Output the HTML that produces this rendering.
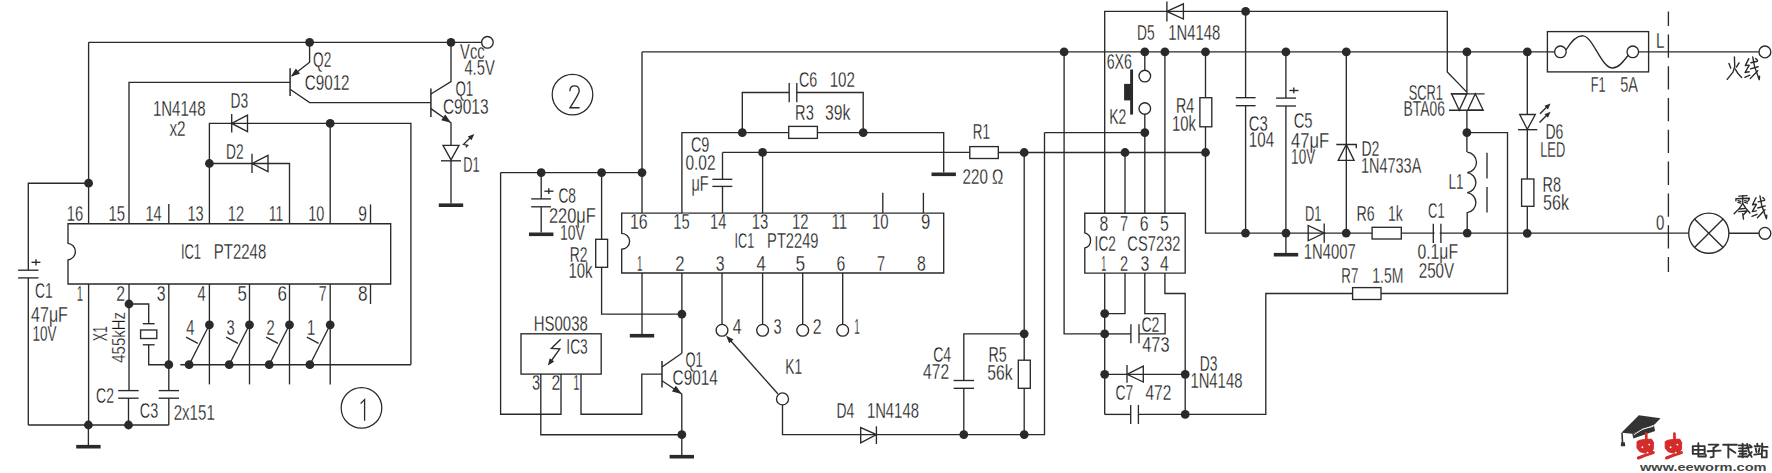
<!DOCTYPE html>
<html><head><meta charset="utf-8"><style>
html,body{margin:0;padding:0;background:#fff;}
body{width:1772px;height:473px;overflow:hidden;}
svg{display:block;}
svg line, svg polyline, svg polygon, svg rect, svg circle, svg path{fill:none;stroke:#2a2a2a;stroke-width:1.35;}
svg .d{fill:#2a2a2a;stroke:none;}
svg .w{fill:#fff;}
svg .wn{fill:#fff;stroke:none;}
svg text{font-family:"Liberation Sans",sans-serif;fill:#151515;stroke:#fff;stroke-width:0.3px;}
</style></head><body>
<svg width="1772" height="473" viewBox="0 0 1772 473">
<line x1="88.6" y1="42.3" x2="481.8" y2="42.3"/>
<circle class="d" cx="309.6" cy="42.3" r="4.4"/>
<circle class="d" cx="451" cy="42.3" r="4.4"/>
<circle cx="487.4" cy="42.3" r="5.8"/>
<line x1="88.6" y1="42.3" x2="88.6" y2="223.7"/>
<circle class="d" cx="88.6" cy="183.2" r="4.4"/>
<polyline points="88.6,183.2 28.3,183.2 28.3,270.2"/>
<line x1="18.1" y1="270.2" x2="38.5" y2="270.2"/>
<line x1="18.1" y1="277.9" x2="38.5" y2="277.9"/>
<line x1="28.3" y1="277.9" x2="28.3" y2="425"/>
<line x1="31.5" y1="262.3" x2="40.4" y2="262.3"/>
<line x1="36" y1="259.2" x2="36" y2="265.4"/>
<polyline points="129,223.7 129,82.4 290.1,82.4"/>
<line x1="290.1" y1="68.2" x2="290.1" y2="96.1" style="stroke-width:1.5"/>
<polyline points="309.6,42.3 309.6,62.2 292,76"/>
<polygon class="d" points="290.8,76.6 295.88,68.43 300.01,73.83"/>
<polyline points="290.1,89.2 309.6,102.6 430.9,102.6"/>
<line x1="430.9" y1="88.5" x2="430.9" y2="117" style="stroke-width:1.5"/>
<polyline points="430.9,94 451,81.5 451,42.3"/>
<polyline points="430.9,108.6 451,122.8 451,145.3"/>
<polygon class="d" points="451,122.8 441.22,120.18 445.26,114.46"/>
<polygon points="443,145.3 459,145.3 451,159.8"/>
<line x1="441" y1="160.8" x2="461" y2="160.8"/>
<line x1="451" y1="160.8" x2="451" y2="203.5"/>
<rect class="d" x="438.8" y="203.4" width="24.4" height="3.6"/>
<polyline points="465.8,147.3 467.7,145.4 463.6,144.3 471,137"/>
<polygon class="d" points="474.3,133.9 471.52,140.37 467.76,136.49"/>
<polyline points="209.4,223.7 209.4,123.4 410.9,123.4 410.9,364.7"/>
<line x1="231.7" y1="114" x2="231.7" y2="132.6"/>
<polygon points="231.7,123.4 247.5,115.2 247.5,131.6"/>
<circle class="d" cx="330.2" cy="123.4" r="4.4"/>
<line x1="330.2" y1="123.4" x2="330.2" y2="223.7"/>
<circle class="d" cx="209.4" cy="163.5" r="4.4"/>
<polyline points="209.4,163.5 289.5,163.5 289.5,223.7"/>
<line x1="252" y1="153.8" x2="252" y2="173.1"/>
<polygon points="252,163.5 268,155.3 268,171.7"/>
<path d="M68,243.3 A8.3,8.3 0 0 1 68,259.8 L68,284 L390.7,284 L390.7,223.7 L68,223.7 Z"/>
<line x1="168.8" y1="204" x2="168.8" y2="223.7"/>
<line x1="370.5" y1="204.4" x2="370.5" y2="223.7"/>
<line x1="88.6" y1="284" x2="88.6" y2="425"/>
<line x1="129" y1="284" x2="129" y2="390.6"/>
<line x1="168.8" y1="284" x2="168.8" y2="390.6"/>
<line x1="209.4" y1="284" x2="209.4" y2="384.4"/>
<line x1="249.5" y1="284" x2="249.5" y2="384.4"/>
<line x1="289.5" y1="284" x2="289.5" y2="384.4"/>
<line x1="330.2" y1="284" x2="330.2" y2="384.4"/>
<line x1="370.5" y1="284" x2="370.5" y2="304"/>
<circle class="d" cx="129" cy="304" r="4.4"/>
<polyline points="129,304 148.7,304 148.7,323.7"/>
<line x1="142.8" y1="323.7" x2="154.6" y2="323.7"/>
<rect x="140.6" y="330" width="16.2" height="8.5"/>
<line x1="142.8" y1="344.8" x2="154.6" y2="344.8"/>
<polyline points="148.7,344.8 148.7,364.7 168.8,364.7"/>
<circle class="d" cx="168.8" cy="364.7" r="4.4"/>
<line x1="180.3" y1="364.7" x2="410.9" y2="364.7"/>
<circle class="d" cx="209.4" cy="324.8" r="4.4"/>
<circle class="d" cx="189.1" cy="364.7" r="4.4"/>
<line x1="189.1" y1="364.7" x2="209.4" y2="324.8"/>
<line x1="186.1" y1="337.2" x2="197.8" y2="343.3"/>
<circle class="d" cx="249.5" cy="324.8" r="4.4"/>
<circle class="d" cx="229.2" cy="364.7" r="4.4"/>
<line x1="229.2" y1="364.7" x2="249.5" y2="324.8"/>
<line x1="226.2" y1="337.2" x2="237.9" y2="343.3"/>
<circle class="d" cx="289.5" cy="324.8" r="4.4"/>
<circle class="d" cx="269.2" cy="364.7" r="4.4"/>
<line x1="269.2" y1="364.7" x2="289.5" y2="324.8"/>
<line x1="266.2" y1="337.2" x2="277.9" y2="343.3"/>
<circle class="d" cx="330.2" cy="324.8" r="4.4"/>
<circle class="d" cx="309.9" cy="364.7" r="4.4"/>
<line x1="309.9" y1="364.7" x2="330.2" y2="324.8"/>
<line x1="306.9" y1="337.2" x2="318.6" y2="343.3"/>
<line x1="118.2" y1="390.6" x2="138.6" y2="390.6"/>
<line x1="118.2" y1="398.2" x2="138.6" y2="398.2"/>
<line x1="158.7" y1="390.6" x2="179" y2="390.6"/>
<line x1="158.7" y1="398.2" x2="179" y2="398.2"/>
<line x1="128.5" y1="398.2" x2="128.5" y2="425"/>
<line x1="168.8" y1="398.2" x2="168.8" y2="425"/>
<line x1="28.3" y1="425" x2="168.8" y2="425"/>
<circle class="d" cx="88.4" cy="425" r="4.4"/>
<circle class="d" cx="128.5" cy="425" r="4.4"/>
<line x1="88.4" y1="425" x2="88.4" y2="445"/>
<rect class="d" x="76.2" y="444.9" width="24.4" height="3.6"/>
<circle cx="361.5" cy="407.9" r="20.3" style="stroke-width:1.25"/>
<circle cx="572.5" cy="94.6" r="20.3" style="stroke-width:1.25"/>
<text x="313.1" y="67" textLength="18.2" lengthAdjust="spacingAndGlyphs" font-size="21.4">Q2</text>
<text x="304.7" y="89.8" textLength="44.9" lengthAdjust="spacingAndGlyphs" font-size="21.4">C9012</text>
<text x="460.1" y="59.2" textLength="24.5" lengthAdjust="spacingAndGlyphs" font-size="21.4">Vcc</text>
<text x="464.4" y="75.3" textLength="30.4" lengthAdjust="spacingAndGlyphs" font-size="21.4">4.5V</text>
<text x="455.4" y="96.1" textLength="17.8" lengthAdjust="spacingAndGlyphs" font-size="21.4">Q1</text>
<text x="442.9" y="114.4" textLength="45.6" lengthAdjust="spacingAndGlyphs" font-size="21.4">C9013</text>
<text x="463.2" y="172.2" textLength="16.4" lengthAdjust="spacingAndGlyphs" font-size="21.4">D1</text>
<text x="152.9" y="115.7" textLength="52.7" lengthAdjust="spacingAndGlyphs" font-size="21.4">1N4148</text>
<text x="169.4" y="136" textLength="16.2" lengthAdjust="spacingAndGlyphs" font-size="21.4">x2</text>
<text x="230.4" y="107.6" textLength="17.7" lengthAdjust="spacingAndGlyphs" font-size="21.4">D3</text>
<text x="226" y="158.9" textLength="17.6" lengthAdjust="spacingAndGlyphs" font-size="21.4">D2</text>
<text x="66.7" y="220.6" textLength="16.4" lengthAdjust="spacingAndGlyphs" font-size="21.4">16</text>
<text x="108.4" y="220.6" textLength="16.6" lengthAdjust="spacingAndGlyphs" font-size="21.4">15</text>
<text x="145.4" y="220.6" textLength="16.2" lengthAdjust="spacingAndGlyphs" font-size="21.4">14</text>
<text x="187.4" y="220.6" textLength="16.2" lengthAdjust="spacingAndGlyphs" font-size="21.4">13</text>
<text x="227.8" y="220.6" textLength="16.3" lengthAdjust="spacingAndGlyphs" font-size="21.4">12</text>
<text x="268.7" y="220.6" textLength="14.5" lengthAdjust="spacingAndGlyphs" font-size="21.4">11</text>
<text x="308.2" y="220.6" textLength="16.1" lengthAdjust="spacingAndGlyphs" font-size="21.4">10</text>
<text x="358.2" y="220.6" textLength="8.7" lengthAdjust="spacingAndGlyphs" font-size="21.4">9</text>
<text x="76.8" y="300.6" textLength="6.3" lengthAdjust="spacingAndGlyphs" font-size="21.4">1</text>
<text x="116.2" y="300.6" textLength="8.8" lengthAdjust="spacingAndGlyphs" font-size="21.4">2</text>
<text x="156.8" y="300.6" textLength="8.8" lengthAdjust="spacingAndGlyphs" font-size="21.4">3</text>
<text x="197.4" y="300.6" textLength="8.2" lengthAdjust="spacingAndGlyphs" font-size="21.4">4</text>
<text x="237.4" y="300.6" textLength="9.4" lengthAdjust="spacingAndGlyphs" font-size="21.4">5</text>
<text x="277.4" y="300.6" textLength="9.5" lengthAdjust="spacingAndGlyphs" font-size="21.4">6</text>
<text x="318.7" y="300.6" textLength="7.9" lengthAdjust="spacingAndGlyphs" font-size="21.4">7</text>
<text x="358" y="300.6" textLength="9.6" lengthAdjust="spacingAndGlyphs" font-size="21.4">8</text>
<text x="180.9" y="258.5" textLength="20.2" lengthAdjust="spacingAndGlyphs" font-size="21.4">IC1</text>
<text x="213.8" y="258.5" textLength="52.4" lengthAdjust="spacingAndGlyphs" font-size="21.4">PT2248</text>
<text x="34.9" y="297.7" textLength="17.7" lengthAdjust="spacingAndGlyphs" font-size="21.4">C1</text>
<text x="31.1" y="321.6" textLength="36.8" lengthAdjust="spacingAndGlyphs" font-size="21.4">47μF</text>
<text x="32.4" y="340.6" textLength="24" lengthAdjust="spacingAndGlyphs" font-size="21.4">10V</text>
<text transform="translate(107.2,340.7) rotate(-90)" x="-0.6" y="0" textLength="15.3" lengthAdjust="spacingAndGlyphs" font-size="19.8">X1</text>
<text transform="translate(125.2,362.1) rotate(-90)" x="-0.6" y="0" textLength="50.7" lengthAdjust="spacingAndGlyphs" font-size="17.8">455kHz</text>
<text x="186.3" y="334.6" textLength="8.2" lengthAdjust="spacingAndGlyphs" font-size="21.4">4</text>
<text x="226.4" y="334.6" textLength="8.2" lengthAdjust="spacingAndGlyphs" font-size="21.4">3</text>
<text x="266.4" y="334.6" textLength="8.2" lengthAdjust="spacingAndGlyphs" font-size="21.4">2</text>
<text x="307.1" y="334.6" textLength="8.2" lengthAdjust="spacingAndGlyphs" font-size="21.4">1</text>
<text x="96.1" y="402.5" textLength="17.9" lengthAdjust="spacingAndGlyphs" font-size="21.4">C2</text>
<text x="139.8" y="417.8" textLength="18.4" lengthAdjust="spacingAndGlyphs" font-size="21.4">C3</text>
<text x="173.7" y="419.6" textLength="41.1" lengthAdjust="spacingAndGlyphs" font-size="21.4">2x151</text>
<polyline points="360.6,403.6 364.6,399.6 364.6,420.8" style="stroke-width:1.3"/>
<path d="M569.9,91.2 C569.9,87.9 571.9,85.9 574.5,85.9 C577.3,85.9 579.2,88 579.2,91 C579.2,93.6 577.4,95.8 570.1,107.7 L579.6,107.7" style="stroke-width:1.35"/>
<line x1="642" y1="51.9" x2="1554.6" y2="51.9"/>
<line x1="642" y1="51.9" x2="642" y2="213.1"/>
<line x1="500.6" y1="172.6" x2="642" y2="172.6"/>
<circle class="d" cx="541.2" cy="172.6" r="4.4"/>
<circle class="d" cx="601.6" cy="172.6" r="4.4"/>
<circle class="d" cx="642" cy="172.6" r="4.4"/>
<line x1="541.2" y1="172.6" x2="541.2" y2="198.8"/>
<line x1="531.2" y1="198.9" x2="551" y2="198.9"/>
<line x1="531.2" y1="206.8" x2="551" y2="206.8"/>
<line x1="541.2" y1="206.8" x2="541.2" y2="232.6"/>
<rect class="d" x="529" y="232.5" width="24.4" height="3.6"/>
<line x1="544.4" y1="191.2" x2="553.5" y2="191.2"/>
<line x1="548.8" y1="188.3" x2="548.8" y2="193.9"/>
<polyline points="500.6,172.6 500.6,414.2 561,414.2 561,374.1"/>
<line x1="601.6" y1="172.6" x2="601.6" y2="239.3"/>
<rect x="595.7" y="239.3" width="11.9" height="28"/>
<polyline points="601.6,267.3 601.6,314.1 681.9,314.1"/>
<circle class="d" cx="681.9" cy="314.1" r="4.4"/>
<path d="M621.7,233.4 A7.9,7.9 0 0 1 621.7,249.2 L621.7,273 L943.7,273 L943.7,213.1 L621.7,213.1 Z"/>
<polyline points="681.9,213.1 681.9,132.6 788.7,132.6"/>
<rect x="788.7" y="126.4" width="28.7" height="12"/>
<polyline points="817.4,132.6 943.7,132.6 943.7,172.6"/>
<rect class="d" x="931.5" y="172.5" width="24.4" height="3.6"/>
<circle class="d" cx="742.3" cy="132.6" r="4.4"/>
<circle class="d" cx="863.2" cy="132.6" r="4.4"/>
<polyline points="742.3,132.6 742.3,92.5 789.2,92.5"/>
<line x1="789.2" y1="83.1" x2="789.2" y2="102.2"/>
<line x1="796.8" y1="83.1" x2="796.8" y2="102.2"/>
<polyline points="796.8,92.5 863.2,92.5 863.2,132.6"/>
<line x1="722.5" y1="152.4" x2="722.5" y2="179.3"/>
<line x1="712.4" y1="179.3" x2="732.3" y2="179.3"/>
<line x1="712.4" y1="186.4" x2="732.3" y2="186.4"/>
<line x1="722.5" y1="186.4" x2="722.5" y2="213.1"/>
<line x1="722.5" y1="152.4" x2="969.8" y2="152.4"/>
<rect x="969.8" y="146.6" width="28.5" height="11.9"/>
<line x1="998.3" y1="152.5" x2="1205.5" y2="152.5"/>
<circle class="d" cx="762.6" cy="152.4" r="4.4"/>
<line x1="762.6" y1="152.4" x2="762.6" y2="213.1"/>
<circle class="d" cx="1024.2" cy="152.5" r="4.4"/>
<line x1="882.8" y1="192.8" x2="882.8" y2="213.1"/>
<line x1="923.4" y1="192.8" x2="923.4" y2="213.1"/>
<line x1="642" y1="273" x2="642" y2="334"/>
<rect class="d" x="629.8" y="333.9" width="24.4" height="3.6"/>
<line x1="681.9" y1="273" x2="681.9" y2="353.3"/>
<line x1="722" y1="273" x2="722" y2="324.4"/>
<circle cx="722" cy="330.3" r="5.9"/>
<line x1="762.6" y1="273" x2="762.6" y2="324.4"/>
<circle cx="762.6" cy="330.3" r="5.9"/>
<line x1="802.7" y1="273" x2="802.7" y2="324.4"/>
<circle cx="802.7" cy="330.3" r="5.9"/>
<line x1="842.7" y1="273" x2="842.7" y2="324.4"/>
<circle cx="842.7" cy="330.3" r="5.9"/>
<line x1="777.8" y1="393.8" x2="728.5" y2="338.3"/>
<polygon class="d" points="726,335.5 733.41,339.61 729.23,343.33"/>
<circle cx="782.5" cy="398.9" r="6"/>
<polyline points="782.5,404.9 782.5,434.6 1044.5,434.6 1044.5,132.5"/>
<polygon points="860.7,427.6 860.7,442.8 876.4,434.6"/>
<line x1="876.4" y1="426.3" x2="876.4" y2="444"/>
<circle class="d" cx="963.8" cy="434.6" r="4.4"/>
<circle class="d" cx="1024.2" cy="434.6" r="4.4"/>
<line x1="1024.2" y1="152.5" x2="1024.2" y2="360.2"/>
<rect x="1018.3" y="360.2" width="12" height="28.1"/>
<line x1="1024.2" y1="388.3" x2="1024.2" y2="434.6"/>
<polyline points="1024.2,333.8 963.8,333.8 963.8,380.5"/>
<circle class="d" cx="1024.2" cy="333.8" r="4.4"/>
<line x1="953.6" y1="380.5" x2="974" y2="380.5"/>
<line x1="953.6" y1="388.3" x2="974" y2="388.3"/>
<line x1="963.8" y1="388.3" x2="963.8" y2="434.6"/>
<rect x="521" y="333.8" width="80.2" height="40.3"/>
<polyline points="540.8,374.1 540.8,434.7 681.8,434.7"/>
<polyline points="581,374.1 581,414.2 641.8,414.2 641.8,374.1 662,374.1"/>
<polyline points="560.7,339.2 551.4,348.4 559.8,348.8 551.5,360.5"/>
<polygon class="d" points="547.9,365.5 549.68,358.17 554.24,361.42"/>
<line x1="662" y1="361" x2="662" y2="387.6" style="stroke-width:1.5"/>
<polyline points="662,367 681.8,353.3"/>
<polyline points="662,380.7 681.8,394 681.8,455"/>
<polygon class="d" points="681.8,394 671.96,391.61 675.87,385.8"/>
<circle class="d" cx="681.8" cy="434.7" r="4.4"/>
<rect class="d" x="669.6" y="454.9" width="24.4" height="3.6"/>
<text x="558.4" y="203.4" textLength="17.6" lengthAdjust="spacingAndGlyphs" font-size="21.4">C8</text>
<text x="548.9" y="223" textLength="46.9" lengthAdjust="spacingAndGlyphs" font-size="21.4">220μF</text>
<text x="560.1" y="240.1" textLength="24.8" lengthAdjust="spacingAndGlyphs" font-size="21.4">10V</text>
<text x="569.8" y="262.2" textLength="17.7" lengthAdjust="spacingAndGlyphs" font-size="21.4">R2</text>
<text x="568.4" y="278.2" textLength="24.2" lengthAdjust="spacingAndGlyphs" font-size="21.4">10k</text>
<text x="533.8" y="331" textLength="54" lengthAdjust="spacingAndGlyphs" font-size="21.4">HS0038</text>
<text x="566.3" y="353.8" textLength="21.5" lengthAdjust="spacingAndGlyphs" font-size="21.4">IC3</text>
<text x="532" y="390" textLength="8.1" lengthAdjust="spacingAndGlyphs" font-size="21.4">3</text>
<text x="551.6" y="390" textLength="8.8" lengthAdjust="spacingAndGlyphs" font-size="21.4">2</text>
<text x="573.2" y="390" textLength="6.2" lengthAdjust="spacingAndGlyphs" font-size="21.4">1</text>
<text x="685.4" y="366.5" textLength="17.2" lengthAdjust="spacingAndGlyphs" font-size="21.4">Q1</text>
<text x="672.6" y="384.5" textLength="45.2" lengthAdjust="spacingAndGlyphs" font-size="21.4">C9014</text>
<text x="799" y="87" textLength="18.3" lengthAdjust="spacingAndGlyphs" font-size="21.4">C6</text>
<text x="829.7" y="87" textLength="25.3" lengthAdjust="spacingAndGlyphs" font-size="21.4">102</text>
<text x="795.1" y="120" textLength="18.7" lengthAdjust="spacingAndGlyphs" font-size="21.4">R3</text>
<text x="825.1" y="120" textLength="25.3" lengthAdjust="spacingAndGlyphs" font-size="21.4">39k</text>
<text x="690.9" y="151.6" textLength="18.5" lengthAdjust="spacingAndGlyphs" font-size="21.4">C9</text>
<text x="685.4" y="170" textLength="30.1" lengthAdjust="spacingAndGlyphs" font-size="21.4">0.02</text>
<text x="691.4" y="190.8" textLength="17.2" lengthAdjust="spacingAndGlyphs" font-size="21.4">μF</text>
<text x="972.8" y="138.5" textLength="17.2" lengthAdjust="spacingAndGlyphs" font-size="21.4">R1</text>
<text x="962.6" y="184.4" textLength="40.8" lengthAdjust="spacingAndGlyphs" font-size="21.4">220 Ω</text>
<text x="630" y="229.3" textLength="17.7" lengthAdjust="spacingAndGlyphs" font-size="21.4">16</text>
<text x="673.2" y="229.3" textLength="16.4" lengthAdjust="spacingAndGlyphs" font-size="21.4">15</text>
<text x="710" y="229.3" textLength="16.4" lengthAdjust="spacingAndGlyphs" font-size="21.4">14</text>
<text x="751.8" y="229.3" textLength="16.5" lengthAdjust="spacingAndGlyphs" font-size="21.4">13</text>
<text x="791.9" y="229.3" textLength="16.5" lengthAdjust="spacingAndGlyphs" font-size="21.4">12</text>
<text x="831.4" y="229.3" textLength="15.7" lengthAdjust="spacingAndGlyphs" font-size="21.4">11</text>
<text x="872" y="229.3" textLength="16.5" lengthAdjust="spacingAndGlyphs" font-size="21.4">10</text>
<text x="921" y="229.3" textLength="9.3" lengthAdjust="spacingAndGlyphs" font-size="21.4">9</text>
<text x="734.6" y="247.9" textLength="19.7" lengthAdjust="spacingAndGlyphs" font-size="21.4">IC1</text>
<text x="767.1" y="247.9" textLength="51.4" lengthAdjust="spacingAndGlyphs" font-size="21.4">PT2249</text>
<text x="637.1" y="271" textLength="5.5" lengthAdjust="spacingAndGlyphs" font-size="21.4">1</text>
<text x="675.2" y="271" textLength="9.3" lengthAdjust="spacingAndGlyphs" font-size="21.4">2</text>
<text x="715.8" y="271" textLength="8.8" lengthAdjust="spacingAndGlyphs" font-size="21.4">3</text>
<text x="756.4" y="271" textLength="9.3" lengthAdjust="spacingAndGlyphs" font-size="21.4">4</text>
<text x="795.4" y="271" textLength="9.7" lengthAdjust="spacingAndGlyphs" font-size="21.4">5</text>
<text x="836.5" y="271" textLength="8.8" lengthAdjust="spacingAndGlyphs" font-size="21.4">6</text>
<text x="877.1" y="271" textLength="8.1" lengthAdjust="spacingAndGlyphs" font-size="21.4">7</text>
<text x="917" y="271" textLength="8.8" lengthAdjust="spacingAndGlyphs" font-size="21.4">8</text>
<text x="732.8" y="334.4" textLength="8.8" lengthAdjust="spacingAndGlyphs" font-size="21.4">4</text>
<text x="773.4" y="334.4" textLength="8.1" lengthAdjust="spacingAndGlyphs" font-size="21.4">3</text>
<text x="812.8" y="334.4" textLength="8.8" lengthAdjust="spacingAndGlyphs" font-size="21.4">2</text>
<text x="854.3" y="334.4" textLength="5.5" lengthAdjust="spacingAndGlyphs" font-size="21.4">1</text>
<text x="785.2" y="373.8" textLength="16.9" lengthAdjust="spacingAndGlyphs" font-size="21.4">K1</text>
<text x="836.4" y="418.2" textLength="17.8" lengthAdjust="spacingAndGlyphs" font-size="21.4">D4</text>
<text x="866.9" y="418.2" textLength="52" lengthAdjust="spacingAndGlyphs" font-size="21.4">1N4148</text>
<text x="933.2" y="361.7" textLength="18" lengthAdjust="spacingAndGlyphs" font-size="21.4">C4</text>
<text x="923.1" y="378.7" textLength="26" lengthAdjust="spacingAndGlyphs" font-size="21.4">472</text>
<text x="988.5" y="362.2" textLength="18.2" lengthAdjust="spacingAndGlyphs" font-size="21.4">R5</text>
<text x="987.3" y="380" textLength="25.3" lengthAdjust="spacingAndGlyphs" font-size="21.4">56k</text>
<polyline points="1104.7,213.2 1104.7,11.4 1447.3,11.4 1447.3,72 1466.8,92.1"/>
<line x1="1166.9" y1="1.6" x2="1166.9" y2="21.5"/>
<polygon points="1166.9,11.4 1183.4,3.8 1183.4,19"/>
<circle class="d" cx="1245.6" cy="11.4" r="4.4"/>
<circle class="d" cx="1064.1" cy="51.9" r="4.4"/>
<circle class="d" cx="1144.8" cy="51.9" r="4.4"/>
<circle class="d" cx="1164.9" cy="51.9" r="4.4"/>
<circle class="d" cx="1205.5" cy="51.9" r="4.4"/>
<circle class="d" cx="1285.9" cy="51.9" r="4.4"/>
<circle class="d" cx="1346.3" cy="51.9" r="4.4"/>
<circle class="d" cx="1466.9" cy="51.9" r="4.4"/>
<circle class="d" cx="1527.3" cy="51.9" r="4.4"/>
<polyline points="1064.1,51.9 1064.1,333.9 1104.7,333.9"/>
<line x1="1144.8" y1="51.9" x2="1144.8" y2="70.5"/>
<circle cx="1144.8" cy="76.1" r="5.8"/>
<circle cx="1144.8" cy="108.5" r="5.8"/>
<line x1="1144.8" y1="114.1" x2="1144.8" y2="213.2"/>
<circle class="d" cx="1144.8" cy="132.6" r="4.4"/>
<line x1="1131.6" y1="69.5" x2="1131.6" y2="114.6" style="stroke-width:2.9"/>
<rect class="d" x="1124.1" y="83.9" width="7.5" height="16.5"/>
<line x1="1044.5" y1="132.6" x2="1144.8" y2="132.6"/>
<line x1="1164.9" y1="51.9" x2="1164.9" y2="213.2"/>
<line x1="1205.5" y1="51.9" x2="1205.5" y2="97.7"/>
<rect x="1199.9" y="97.7" width="11.9" height="29.1"/>
<polyline points="1205.5,126.8 1205.5,233.1 1700,233.1"/>
<circle class="d" cx="1125" cy="152.5" r="4.4"/>
<circle class="d" cx="1205.5" cy="152.5" r="4.4"/>
<line x1="1125" y1="152.5" x2="1125" y2="213.2"/>
<line x1="1245.6" y1="11.4" x2="1245.6" y2="97.7"/>
<line x1="1235.8" y1="97.7" x2="1255.6" y2="97.7"/>
<line x1="1235.8" y1="105.7" x2="1255.6" y2="105.7"/>
<line x1="1245.6" y1="105.7" x2="1245.6" y2="233.1"/>
<line x1="1285.9" y1="51.9" x2="1285.9" y2="98.1"/>
<line x1="1276.1" y1="98.1" x2="1296" y2="98.1"/>
<line x1="1276.1" y1="106" x2="1296" y2="106"/>
<line x1="1285.9" y1="106" x2="1285.9" y2="253"/>
<rect class="d" x="1273.8" y="252.9" width="24.4" height="3.6"/>
<line x1="1289.4" y1="90.5" x2="1298.5" y2="90.5"/>
<line x1="1293.8" y1="87.4" x2="1293.8" y2="93.3"/>
<line x1="1346.3" y1="51.9" x2="1346.3" y2="233.1"/>
<polyline points="1336.3,144.5 1356.3,144.5 1356.3,148.3"/>
<polygon points="1346.3,144.5 1338.2,160.4 1354.1,160.4"/>
<line x1="1466.9" y1="51.9" x2="1466.9" y2="93.8"/>
<line x1="1450.7" y1="93.8" x2="1484.6" y2="93.8"/>
<line x1="1449" y1="110.2" x2="1483.2" y2="110.2"/>
<polygon points="1451.6,93.8 1466.8,93.8 1459.2,110.2"/>
<polygon points="1467.7,110.2 1483.2,110.2 1475.3,93.8"/>
<line x1="1466.9" y1="110.2" x2="1466.9" y2="152.1"/>
<circle class="d" cx="1466.9" cy="132.6" r="4.4"/>
<path d="M1467.2,152.1 A10.3,10.3 0 0 1 1467.2,172.6 A10.1,10.1 0 0 1 1467.2,192.6 A10.1,10.1 0 0 1 1467.2,212.6 L1467.2,233.1"/>
<line x1="1487" y1="152.8" x2="1487" y2="178.4"/>
<line x1="1487" y1="187" x2="1487" y2="212.6"/>
<circle class="d" cx="1467.2" cy="233.1" r="4.4"/>
<polyline points="1466.9,132.6 1507.5,132.6 1507.5,293.5 1381,293.5"/>
<rect x="1352.6" y="287.6" width="28.4" height="11.9"/>
<polyline points="1352.6,293.5 1265.8,293.5 1265.8,414.4 1138.4,414.4"/>
<path d="M1084.8,232.8 A7.9,7.9 0 0 1 1084.8,248 L1084.8,273.1 L1185.2,273.1 L1185.2,213.2 L1084.8,213.2 Z"/>
<line x1="1104.7" y1="273.1" x2="1104.7" y2="414.4"/>
<circle class="d" cx="1104.7" cy="313.6" r="4.4"/>
<circle class="d" cx="1104.7" cy="333.9" r="4.4"/>
<circle class="d" cx="1104.7" cy="374.3" r="4.4"/>
<polyline points="1125,273.1 1125,313.6 1104.7,313.6"/>
<polyline points="1144.8,273.1 1144.8,313.6 1165.1,313.6 1165.1,333.9 1139,333.9"/>
<line x1="1130.9" y1="324.3" x2="1130.9" y2="343.3"/>
<line x1="1139" y1="324.3" x2="1139" y2="343.3"/>
<line x1="1104.7" y1="333.9" x2="1130.9" y2="333.9"/>
<polyline points="1164.9,273.1 1164.9,293.5 1185.2,293.5 1185.2,414.4"/>
<circle class="d" cx="1185.2" cy="374.3" r="4.4"/>
<circle class="d" cx="1185.2" cy="414.4" r="4.4"/>
<line x1="1104.7" y1="374.3" x2="1185.2" y2="374.3"/>
<line x1="1127" y1="364.9" x2="1127" y2="382.7"/>
<polygon points="1127,374.3 1143.3,366.1 1143.3,382"/>
<line x1="1104.7" y1="414.4" x2="1130.7" y2="414.4"/>
<line x1="1130.7" y1="404.9" x2="1130.7" y2="424"/>
<line x1="1138.4" y1="404.9" x2="1138.4" y2="424"/>
<circle class="d" cx="1245.5" cy="233.1" r="4.4"/>
<circle class="d" cx="1286" cy="233.1" r="4.4"/>
<circle class="d" cx="1346.2" cy="233.1" r="4.4"/>
<circle class="d" cx="1527.2" cy="233.3" r="4.4"/>
<polygon points="1308.2,225.5 1308.2,240.8 1324.2,233.1"/>
<line x1="1324.2" y1="223.5" x2="1324.2" y2="242.8"/>
<rect class="w" x="1372.1" y="227.3" width="29.2" height="11.7"/>
<rect class="wn" x="1434.5" y="229" width="5.2" height="8"/>
<line x1="1433.3" y1="223.7" x2="1433.3" y2="242.9"/>
<line x1="1440.9" y1="223.7" x2="1440.9" y2="242.9"/>
<line x1="1527.3" y1="51.9" x2="1527.3" y2="114.5"/>
<polygon points="1519.7,114.5 1535.3,114.5 1527.3,129.3"/>
<line x1="1518" y1="129.7" x2="1537.3" y2="129.7"/>
<line x1="1527.3" y1="129.7" x2="1527.3" y2="179"/>
<rect x="1521.6" y="179" width="12.3" height="27.3"/>
<line x1="1527.3" y1="206.3" x2="1527.3" y2="233.3"/>
<line x1="1540" y1="113.8" x2="1547" y2="106.8"/>
<polygon class="d" points="1550.5,103.4 1548,109.4 1544.48,105.85"/>
<line x1="1539.5" y1="122.6" x2="1546.5" y2="115.6"/>
<polygon class="d" points="1550.5,111.7 1548,117.7 1544.48,114.15"/>
<rect x="1547.4" y="31.6" width="101.2" height="40.3"/>
<circle cx="1560.4" cy="51.8" r="5.8"/>
<circle cx="1632.8" cy="51.8" r="5.8"/>
<path d="M1566,50 C1572,40 1577,35.5 1583,35.8 C1593,36.5 1601,67 1612,68 C1618,68.5 1623,62 1628,55.5"/>
<line x1="1638.6" y1="51.8" x2="1759" y2="51.8"/>
<circle cx="1764.9" cy="51.9" r="5.9"/>
<line x1="1668.4" y1="11.6" x2="1668.4" y2="272" stroke-dasharray="23.3,8.5" stroke-dashoffset="9"/>
<line x1="1700" y1="233.2" x2="1759" y2="233.2"/>
<circle class="w" cx="1708.8" cy="233.2" r="20.1"/>
<line x1="1694.5" y1="218.9" x2="1723.1" y2="247.5"/>
<line x1="1723.1" y1="218.9" x2="1694.5" y2="247.5"/>
<circle cx="1764.9" cy="233.3" r="5.9"/>
<text x="1137.1" y="40.1" textLength="17.7" lengthAdjust="spacingAndGlyphs" font-size="21.4">D5</text>
<text x="1168.3" y="40.1" textLength="52" lengthAdjust="spacingAndGlyphs" font-size="21.4">1N4148</text>
<text x="1106.7" y="69" textLength="25.3" lengthAdjust="spacingAndGlyphs" font-size="21.4">6X6</text>
<text x="1109.2" y="124.3" textLength="17.2" lengthAdjust="spacingAndGlyphs" font-size="21.4">K2</text>
<text x="1175.9" y="113.4" textLength="18.3" lengthAdjust="spacingAndGlyphs" font-size="21.4">R4</text>
<text x="1171.9" y="130.6" textLength="24" lengthAdjust="spacingAndGlyphs" font-size="21.4">10k</text>
<text x="1248.8" y="130.6" textLength="19" lengthAdjust="spacingAndGlyphs" font-size="21.4">C3</text>
<text x="1248.8" y="147.1" textLength="25.3" lengthAdjust="spacingAndGlyphs" font-size="21.4">104</text>
<text x="1293.7" y="128.1" textLength="18.9" lengthAdjust="spacingAndGlyphs" font-size="21.4">C5</text>
<text x="1291.1" y="147.9" textLength="38" lengthAdjust="spacingAndGlyphs" font-size="21.4">47μF</text>
<text x="1291.1" y="163.6" textLength="24.1" lengthAdjust="spacingAndGlyphs" font-size="21.4">10V</text>
<text x="1361.4" y="155.5" textLength="18" lengthAdjust="spacingAndGlyphs" font-size="21.4">D2</text>
<text x="1360.9" y="172.5" textLength="60.4" lengthAdjust="spacingAndGlyphs" font-size="21.4">1N4733A</text>
<text x="1408.7" y="99.7" textLength="34.2" lengthAdjust="spacingAndGlyphs" font-size="21.4">SCR1</text>
<text x="1403.6" y="116.3" textLength="41.3" lengthAdjust="spacingAndGlyphs" font-size="21.4">BTA06</text>
<text x="1448.5" y="189" textLength="15.1" lengthAdjust="spacingAndGlyphs" font-size="21.4">L1</text>
<text x="1545.4" y="138.8" textLength="17.9" lengthAdjust="spacingAndGlyphs" font-size="21.4">D6</text>
<text x="1540.2" y="156.6" textLength="25.1" lengthAdjust="spacingAndGlyphs" font-size="21.4">LED</text>
<text x="1542.5" y="192" textLength="18.5" lengthAdjust="spacingAndGlyphs" font-size="21.4">R8</text>
<text x="1543.1" y="210" textLength="25.9" lengthAdjust="spacingAndGlyphs" font-size="21.4">56k</text>
<text x="1590.8" y="92" textLength="14.8" lengthAdjust="spacingAndGlyphs" font-size="21.4">F1</text>
<text x="1620.2" y="92" textLength="17.8" lengthAdjust="spacingAndGlyphs" font-size="21.4">5A</text>
<text x="1656.1" y="48.3" textLength="8.4" lengthAdjust="spacingAndGlyphs" font-size="21.4">L</text>
<text x="1656.1" y="230.2" textLength="8.4" lengthAdjust="spacingAndGlyphs" font-size="21.4">0</text>
<text x="1099.4" y="231" textLength="8.8" lengthAdjust="spacingAndGlyphs" font-size="21.4">8</text>
<text x="1120.1" y="231" textLength="8.1" lengthAdjust="spacingAndGlyphs" font-size="21.4">7</text>
<text x="1139.7" y="231" textLength="8.8" lengthAdjust="spacingAndGlyphs" font-size="21.4">6</text>
<text x="1160" y="231" textLength="8.8" lengthAdjust="spacingAndGlyphs" font-size="21.4">5</text>
<text x="1094.6" y="251" textLength="21.2" lengthAdjust="spacingAndGlyphs" font-size="21.4">IC2</text>
<text x="1127.3" y="251" textLength="53.1" lengthAdjust="spacingAndGlyphs" font-size="21.4">CS7232</text>
<text x="1101.3" y="270.9" textLength="5" lengthAdjust="spacingAndGlyphs" font-size="21.4">1</text>
<text x="1120.1" y="270.9" textLength="8.1" lengthAdjust="spacingAndGlyphs" font-size="21.4">2</text>
<text x="1140.4" y="270.9" textLength="8.8" lengthAdjust="spacingAndGlyphs" font-size="21.4">3</text>
<text x="1160" y="270.9" textLength="8.8" lengthAdjust="spacingAndGlyphs" font-size="21.4">4</text>
<text x="1141.4" y="331.9" textLength="18" lengthAdjust="spacingAndGlyphs" font-size="21.4">C2</text>
<text x="1142.2" y="351.7" textLength="27.3" lengthAdjust="spacingAndGlyphs" font-size="21.4">473</text>
<text x="1199.8" y="371.2" textLength="17.7" lengthAdjust="spacingAndGlyphs" font-size="21.4">D3</text>
<text x="1190.4" y="387.7" textLength="52" lengthAdjust="spacingAndGlyphs" font-size="21.4">1N4148</text>
<text x="1115.5" y="400.4" textLength="17.7" lengthAdjust="spacingAndGlyphs" font-size="21.4">C7</text>
<text x="1145.5" y="400.4" textLength="25.8" lengthAdjust="spacingAndGlyphs" font-size="21.4">472</text>
<text x="1305" y="220.5" textLength="16.5" lengthAdjust="spacingAndGlyphs" font-size="21.4">D1</text>
<text x="1303.8" y="259" textLength="51.9" lengthAdjust="spacingAndGlyphs" font-size="21.4">1N4007</text>
<text x="1356.6" y="220.5" textLength="18.2" lengthAdjust="spacingAndGlyphs" font-size="21.4">R6</text>
<text x="1388" y="220.5" textLength="14.7" lengthAdjust="spacingAndGlyphs" font-size="21.4">1k</text>
<text x="1341.3" y="282.6" textLength="17" lengthAdjust="spacingAndGlyphs" font-size="21.4">R7</text>
<text x="1372.3" y="282.6" textLength="31.1" lengthAdjust="spacingAndGlyphs" font-size="21.4">1.5M</text>
<text x="1428.1" y="218.1" textLength="16.5" lengthAdjust="spacingAndGlyphs" font-size="21.4">C1</text>
<text x="1417.5" y="259.2" textLength="40.5" lengthAdjust="spacingAndGlyphs" font-size="21.4">0.1μF</text>
<text x="1418.7" y="277.7" textLength="35.5" lengthAdjust="spacingAndGlyphs" font-size="21.4">250V</text>
<polyline points="1728.99,63.51 1730.79,68.19" style="stroke-width:1.4;stroke-linecap:round;stroke-linejoin:round"/>
<polyline points="1739.06,62.79 1736.4,67.11" style="stroke-width:1.4;stroke-linecap:round;stroke-linejoin:round"/>
<polyline points="1734.39,56.89 1734.75,66.39 1732.95,72.14 1727.19,79.34" style="stroke-width:1.4;stroke-linecap:round;stroke-linejoin:round"/>
<polyline points="1735.11,68.91 1737.99,73.58 1741.58,77.54" style="stroke-width:1.4;stroke-linecap:round;stroke-linejoin:round"/>
<polyline points="1748.78,58.62 1745.32,65.67 1748.78,65.17" style="stroke-width:1.4;stroke-linecap:round;stroke-linejoin:round"/>
<polyline points="1749.14,65.31 1745.04,72.5 1749.14,71.78" style="stroke-width:1.4;stroke-linecap:round;stroke-linejoin:round"/>
<polyline points="1744.82,77.32 1749.86,75.17" style="stroke-width:1.4;stroke-linecap:round;stroke-linejoin:round"/>
<polyline points="1750.94,62.79 1757.41,61.21" style="stroke-width:1.4;stroke-linecap:round;stroke-linejoin:round"/>
<polyline points="1750.58,68.91 1758.13,66.75" style="stroke-width:1.4;stroke-linecap:round;stroke-linejoin:round"/>
<polyline points="1752.73,56.89 1754.53,66.39 1759.21,79.7 1759.57,76.1" style="stroke-width:1.4;stroke-linecap:round;stroke-linejoin:round"/>
<polyline points="1757.77,70.71 1750.22,78.62" style="stroke-width:1.4;stroke-linecap:round;stroke-linejoin:round"/>
<polyline points="1755.61,58.47 1757.41,60.27" style="stroke-width:1.4;stroke-linecap:round;stroke-linejoin:round"/>
<polyline points="1738.79,196.12 1747.06,195.61" style="stroke-width:1.4;stroke-linecap:round;stroke-linejoin:round"/>
<polyline points="1735.91,200.79 1735.91,198.78 1749.44,198.27 1748.5,200.65" style="stroke-width:1.4;stroke-linecap:round;stroke-linejoin:round"/>
<polyline points="1742.75,195.76 1742.75,202.81" style="stroke-width:1.4;stroke-linecap:round;stroke-linejoin:round"/>
<polyline points="1738.07,200.65 1740.81,201.37" style="stroke-width:1.4;stroke-linecap:round;stroke-linejoin:round"/>
<polyline points="1737.93,202.37 1740.81,203.09" style="stroke-width:1.4;stroke-linecap:round;stroke-linejoin:round"/>
<polyline points="1744.69,200.65 1747.42,201.37" style="stroke-width:1.4;stroke-linecap:round;stroke-linejoin:round"/>
<polyline points="1744.69,202.37 1747.42,203.09" style="stroke-width:1.4;stroke-linecap:round;stroke-linejoin:round"/>
<polyline points="1742.75,203.67 1738.79,209.06 1734.12,213.74" style="stroke-width:1.4;stroke-linecap:round;stroke-linejoin:round"/>
<polyline points="1742.75,203.67 1746.35,209.06 1749.94,213.02" style="stroke-width:1.4;stroke-linecap:round;stroke-linejoin:round"/>
<polyline points="1739.87,209.06 1745.27,208.35" style="stroke-width:1.4;stroke-linecap:round;stroke-linejoin:round"/>
<polyline points="1738.79,211.58 1747.06,211.01 1743.47,214.82" style="stroke-width:1.4;stroke-linecap:round;stroke-linejoin:round"/>
<polyline points="1742.75,213.74 1743.47,219.14" style="stroke-width:1.4;stroke-linecap:round;stroke-linejoin:round"/>
<polyline points="1755.98,197.72 1752.52,204.77 1755.98,204.27" style="stroke-width:1.4;stroke-linecap:round;stroke-linejoin:round"/>
<polyline points="1756.34,204.41 1752.24,211.6 1756.34,210.88" style="stroke-width:1.4;stroke-linecap:round;stroke-linejoin:round"/>
<polyline points="1752.02,216.42 1757.06,214.27" style="stroke-width:1.4;stroke-linecap:round;stroke-linejoin:round"/>
<polyline points="1758.14,201.89 1764.61,200.31" style="stroke-width:1.4;stroke-linecap:round;stroke-linejoin:round"/>
<polyline points="1757.78,208.01 1765.33,205.85" style="stroke-width:1.4;stroke-linecap:round;stroke-linejoin:round"/>
<polyline points="1759.93,195.99 1761.73,205.49 1766.41,218.8 1766.77,215.2" style="stroke-width:1.4;stroke-linecap:round;stroke-linejoin:round"/>
<polyline points="1764.97,209.81 1757.42,217.72" style="stroke-width:1.4;stroke-linecap:round;stroke-linejoin:round"/>
<polyline points="1762.81,197.57 1764.61,199.37" style="stroke-width:1.4;stroke-linecap:round;stroke-linejoin:round"/>
<polygon class="d" style="fill:#333" points="1621.4,432.65 1638.84,415.21 1660.58,418.23 1654.53,424.51 1632.44,433.81"/>
<polygon class="d" style="fill:#333" points="1632.21,433.81 1653.95,425.44 1655.12,431.02 1633.37,438.47"/>
<polyline points="1633.6,434.98 1642.91,428.93 1653.37,426.37" style="stroke:#fff;stroke-width:0.9"/>
<polyline points="1621.98,433 1622.56,442.88" style="stroke:#333;stroke-width:1.6"/>
<polygon class="d" style="fill:#333" points="1621.05,442.3 1624.88,442.3 1625.23,446.37 1620.81,446.37"/>
<polygon style="fill:#d42b2b;stroke:#d42b2b;stroke-width:1;stroke-linejoin:round" points="1637,441.6 1639.9,440.2 1644.9,439.5 1651.4,439.1 1653.5,442.4 1653.2,449.5 1650.7,452.4 1644.9,453.1 1639.9,451.7 1637,448.1"/>
<polyline style="stroke:#d42b2b;stroke-width:2.7;stroke-linecap:round" points="1646.2,433.6 1646.4,440"/>
<polyline style="stroke:#d42b2b;stroke-width:3;stroke-linecap:round;stroke-linejoin:round" points="1638.3,458 1645,455.3 1653.3,452.5"/>
<circle class="wn" cx="1642.4" cy="447.2" r="0.95"/>
<circle class="wn" cx="1649.2" cy="444.6" r="0.95"/>
<circle class="wn" cx="1647.6" cy="452.6" r="0.95"/>
<polygon style="fill:#d42b2b;stroke:#d42b2b;stroke-width:1;stroke-linejoin:round" points="1665.2,441.6 1668.1,440.2 1673.1,439.5 1679.6,439.1 1681.7,442.4 1681.4,449.5 1678.9,452.4 1673.1,453.1 1668.1,451.7 1665.2,448.1"/>
<polyline style="stroke:#d42b2b;stroke-width:2.7;stroke-linecap:round" points="1674.4,433.6 1674.6,440"/>
<polyline style="stroke:#d42b2b;stroke-width:3;stroke-linecap:round;stroke-linejoin:round" points="1666.5,458 1673.2,455.3 1681.5,452.5"/>
<circle class="wn" cx="1670.6" cy="447.2" r="0.95"/>
<circle class="wn" cx="1677.4" cy="444.6" r="0.95"/>
<circle class="wn" cx="1675.8" cy="452.6" r="0.95"/>
<polyline points="1692.81,446.14 1704.65,446.14 1704.65,453.91 1692.81,453.91 1692.81,446.14" style="stroke:#333;stroke-width:1.9;stroke-linecap:round;stroke-linejoin:round"/>
<polyline points="1692.81,449.84 1704.65,449.84" style="stroke:#333;stroke-width:1.9;stroke-linecap:round;stroke-linejoin:round"/>
<polyline points="1698.36,443.18 1698.36,456.5 1705.76,456.5 1705.76,454.65" style="stroke:#333;stroke-width:1.9;stroke-linecap:round;stroke-linejoin:round"/>
<polyline points="1708.73,444.66 1718.35,444.66 1713.54,447.99" style="stroke:#333;stroke-width:1.9;stroke-linecap:round;stroke-linejoin:round"/>
<polyline points="1713.54,447.99 1713.54,456.87 1710.58,457.39" style="stroke:#333;stroke-width:1.9;stroke-linecap:round;stroke-linejoin:round"/>
<polyline points="1707.62,451.32 1720.57,450.58" style="stroke:#333;stroke-width:1.9;stroke-linecap:round;stroke-linejoin:round"/>
<polyline points="1723.16,444.81 1736.85,444.81" style="stroke:#333;stroke-width:1.9;stroke-linecap:round;stroke-linejoin:round"/>
<polyline points="1728.34,444.81 1728.34,457.62" style="stroke:#333;stroke-width:1.9;stroke-linecap:round;stroke-linejoin:round"/>
<polyline points="1729.82,449.1 1735.37,452.8" style="stroke:#333;stroke-width:1.9;stroke-linecap:round;stroke-linejoin:round"/>
<polyline points="1738.7,445.4 1746.48,445.4" style="stroke:#333;stroke-width:1.9;stroke-linecap:round;stroke-linejoin:round"/>
<polyline points="1739.07,448.36 1746.48,448.36" style="stroke:#333;stroke-width:1.9;stroke-linecap:round;stroke-linejoin:round"/>
<polyline points="1739.07,451.32 1746.48,451.32" style="stroke:#333;stroke-width:1.9;stroke-linecap:round;stroke-linejoin:round"/>
<polyline points="1739.81,453.91 1746.48,453.91" style="stroke:#333;stroke-width:1.9;stroke-linecap:round;stroke-linejoin:round"/>
<polyline points="1738.33,456.5 1746.48,456.5" style="stroke:#333;stroke-width:1.9;stroke-linecap:round;stroke-linejoin:round"/>
<polyline points="1742.63,443.77 1742.63,457.39" style="stroke:#333;stroke-width:1.9;stroke-linecap:round;stroke-linejoin:round"/>
<polyline points="1747.22,443.92 1748.7,451.32 1751.66,456.87" style="stroke:#333;stroke-width:1.9;stroke-linecap:round;stroke-linejoin:round"/>
<polyline points="1751.66,452.06 1747.22,456.87" style="stroke:#333;stroke-width:1.9;stroke-linecap:round;stroke-linejoin:round"/>
<polyline points="1749.44,445.03 1751.29,446.51" style="stroke:#333;stroke-width:1.9;stroke-linecap:round;stroke-linejoin:round"/>
<polyline points="1746.48,447.62 1751.66,447.25" style="stroke:#333;stroke-width:1.9;stroke-linecap:round;stroke-linejoin:round"/>
<polyline points="1757.21,443.77 1757.58,445.4" style="stroke:#333;stroke-width:1.9;stroke-linecap:round;stroke-linejoin:round"/>
<polyline points="1754.62,446.29 1760.39,446.29" style="stroke:#333;stroke-width:1.9;stroke-linecap:round;stroke-linejoin:round"/>
<polyline points="1755.73,448.36 1756.47,452.06" style="stroke:#333;stroke-width:1.9;stroke-linecap:round;stroke-linejoin:round"/>
<polyline points="1759.43,448.36 1758.69,452.06" style="stroke:#333;stroke-width:1.9;stroke-linecap:round;stroke-linejoin:round"/>
<polyline points="1754.25,454.65 1760.54,453.91" style="stroke:#333;stroke-width:1.9;stroke-linecap:round;stroke-linejoin:round"/>
<polyline points="1762.17,443.55 1762.17,450.58" style="stroke:#333;stroke-width:1.9;stroke-linecap:round;stroke-linejoin:round"/>
<polyline points="1762.17,446.88 1767.57,446.88" style="stroke:#333;stroke-width:1.9;stroke-linecap:round;stroke-linejoin:round"/>
<polyline points="1761.87,450.58 1766.61,450.58 1766.61,457.39 1761.87,457.39 1761.87,450.58" style="stroke:#333;stroke-width:1.9;stroke-linecap:round;stroke-linejoin:round"/>
<text x="1640" y="471.3" textLength="126.5" lengthAdjust="spacingAndGlyphs" font-size="11.2" font-weight="bold" style="fill:#444;stroke:none">www.eeworm.com</text>
</svg>
</body></html>
